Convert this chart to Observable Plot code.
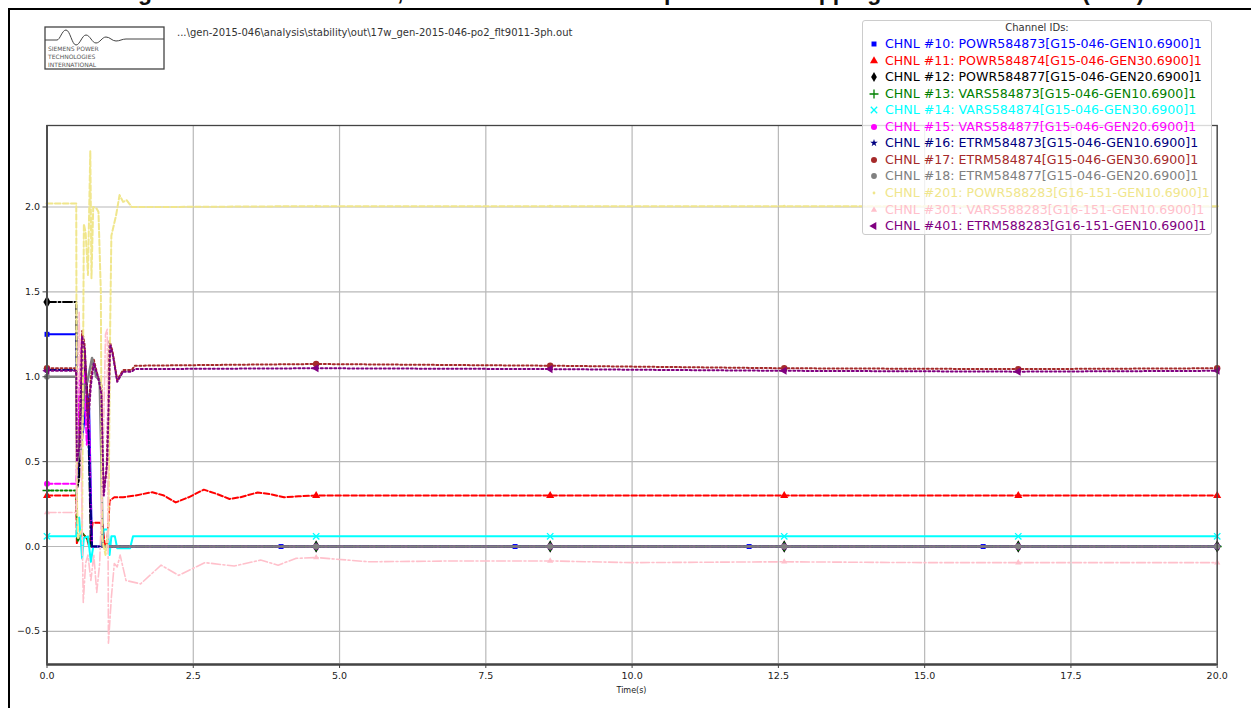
<!DOCTYPE html>
<html><head><meta charset="utf-8">
<script src="https://cdn.jsdelivr.net/npm/d3@7"></script>
<script src="https://cdn.jsdelivr.net/npm/@observablehq/plot@0.6"></script>
<style>
html,body{margin:0;padding:0;background:#fff;overflow:hidden;}
#fig{position:relative;width:1251px;height:708px;overflow:hidden;font-family:"DejaVu Sans",sans-serif;background:#fff;}
#border{position:absolute;left:8px;top:8px;width:1400px;height:900px;border-top:2px solid #000;border-left:2.5px solid #000;}
#title{position:absolute;left:0;width:1262px;top:-19px;text-align:center;font:bold 23px "Liberation Sans",Arial,sans-serif;color:#111;line-height:23px;white-space:nowrap;}
#chart{position:absolute;left:0;top:0;}
#path{position:absolute;left:177px;top:27px;font-size:10px;color:#333;white-space:nowrap;}
#logo{position:absolute;left:44px;top:26px;}
#legend{position:absolute;left:862px;top:20px;width:350px;height:215px;background:rgba(255,255,255,0.8);border:1px solid #ccc;border-radius:3px;box-sizing:border-box;}
#legend .ttl{position:absolute;left:0;right:0;top:1px;text-align:center;font-size:10px;color:#333;}
#legend .row{position:absolute;left:0;height:16px;line-height:16px;font-size:12.6px;white-space:nowrap;}
#legend .row svg{position:absolute;left:6px;top:3px;}
#legend .row span{position:absolute;left:22px;top:0;}
#xlabel{position:absolute;left:46px;width:1171px;top:686px;text-align:center;font-size:8px;color:#222;}
</style></head><body>
<div id="fig">
<div id="title"></div>
<div id="border"></div>
<svg id="logo" width="122" height="45">
<rect x="1" y="1" width="119" height="42" fill="none" stroke="#444" stroke-width="1.3"/>
<path d="M1 14 H13 C16 14 18 4 22 4 C26 4 28 19 32 19 C36 19 38 9 42 9 C46 9 48 17 52 17 C56 17 58 11 62 11 C66 11 68 15 72 15 C76 15 78 13 82 13 H120" fill="none" stroke="#444" stroke-width="1"/>
<text x="4" y="25" font-size="6" fill="#555" font-family="DejaVu Sans">SIEMENS POWER</text>
<text x="4" y="33" font-size="6" fill="#555" font-family="DejaVu Sans">TECHNOLOGIES</text>
<text x="4" y="41" font-size="6" fill="#555" font-family="DejaVu Sans">INTERNATIONAL</text>
</svg>
<div id="path"></div>
<div id="chart"></div>
<div id="xlabel"></div>
<div id="legend"><div class="ttl"></div></div>
</div>
<script>
// ---------- text ----------
const titleText = "Figure 6-17: FLT9011-3PH, GEN-2015-046 Unit Response with Tripping of the Substation (17W)";
const pathText = "...\\gen-2015-046\\analysis\\stability\\out\\17w_gen-2015-046-po2_flt9011-3ph.out";
const legendTitle = "Channel IDs:";
const xLabel = "Time(s)";

// ---------- axes ----------
const X_DOMAIN = [0, 20];
const Y_DOMAIN = [-0.695, 2.48];
const TIME_TICKS = [0, 2.5, 5, 7.5, 10, 12.5, 15, 17.5, 20];
const VALUE_TICKS = [-0.5, 0, 0.5, 1, 1.5, 2];

// ---------- channel labels ----------
const channelIds = [
  "CHNL #10: POWR584873[G15-046-GEN10.6900]1",
  "CHNL #11: POWR584874[G15-046-GEN30.6900]1",
  "CHNL #12: POWR584877[G15-046-GEN20.6900]1",
  "CHNL #13: VARS584873[G15-046-GEN10.6900]1",
  "CHNL #14: VARS584874[G15-046-GEN30.6900]1",
  "CHNL #15: VARS584877[G15-046-GEN20.6900]1",
  "CHNL #16: ETRM584873[G15-046-GEN10.6900]1",
  "CHNL #17: ETRM584874[G15-046-GEN30.6900]1",
  "CHNL #18: ETRM584877[G15-046-GEN20.6900]1",
  "CHNL #201: POWR588283[G16-151-GEN10.6900]1",
  "CHNL #301: VARS588283[G16-151-GEN10.6900]1",
  "CHNL #401: ETRM588283[G16-151-GEN10.6900]1"
];

// ---------- series values [time, value] ----------
const chnl10 = [[0,1.25],[0.5,1.25],[0.52,0.45],[0.57,0.55],[0.63,0.72],[0.69,0.9],[0.72,0.82],[0.75,0.3],[0.77,0],[4,0],[8,0],[12,0],[16,0],[20,0]];
const chnl11 = [[0,0.30],[0.5,0.30],[0.51,0.02],[0.55,0.05],[0.62,0.07],[0.68,0.05],[0.72,0.0],[0.78,0.14],[0.9,0.14],[0.95,0.13],[0.99,0.0],[1.03,0.02],[1.07,0.27],[1.15,0.29],[1.3,0.29],[1.5,0.30],[1.8,0.32],[2.0,0.30],[2.2,0.26],[2.42,0.29],[2.68,0.335],[2.9,0.31],[3.12,0.28],[3.3,0.29],[3.6,0.318],[3.8,0.31],[4.05,0.29],[4.3,0.296],[4.6,0.30],[8.6,0.30],[12.6,0.30],[16.6,0.30],[20,0.30]];
const chnl12 = [[0,1.44],[0.5,1.44],[0.52,0.35],[0.55,0.4],[0.6,0.9],[0.64,1.05],[0.68,0.97],[0.72,0.5],[0.75,0],[4.6,0],[8.6,0],[12.6,0],[16.6,0],[20,0]];
const chnl13 = [[0,0.33],[0.5,0.33],[0.52,0.03],[0.6,0.08],[0.68,0.05],[0.74,0],[4.6,0],[8.6,0],[12.6,0],[16.6,0],[20,0]];
const chnl14 = [[0,0.06],[0.5,0.06],[0.52,0.15],[0.55,0.17],[0.6,-0.07],[0.63,0.05],[0.7,0.06],[0.75,-0.09],[0.79,0.0],[0.94,0.0],[0.97,0.1],[1.04,0.1],[1.07,-0.05],[1.1,0.06],[1.16,0.06],[1.2,-0.01],[1.42,-0.01],[1.47,0.06],[4.6,0.06],[8.6,0.06],[12.6,0.06],[16.6,0.06],[20,0.06]];
const chnl15 = [[0,0.37],[0.5,0.37],[0.52,0.55],[0.56,1.0],[0.6,1.25],[0.64,0.95],[0.68,0.6],[0.72,0.75],[0.75,0.2],[0.77,0],[4.6,0],[8.6,0],[12.6,0],[16.6,0],[20,0]];
const chnl16 = [[0,1.04],[0.5,1.04],[0.52,0.4],[0.57,0.7],[0.61,1.22],[0.65,1.1],[0.7,0.8],[0.74,0.3],[0.77,0],[4.6,0],[8.6,0],[12.6,0],[16.6,0],[20,0]];
const chnl17 = [[0,1.05],[0.5,1.05],[0.51,0.45],[0.55,0.55],[0.6,1.27],[0.64,1.2],[0.7,0.75],[0.75,1.0],[0.8,1.1],[0.87,1.0],[0.93,0.95],[0.96,0.32],[1.02,0.45],[1.07,1.21],[1.12,1.15],[1.2,0.98],[1.3,1.04],[1.45,1.04],[1.5,1.065],[3,1.07],[4.6,1.075],[8.6,1.065],[12.6,1.05],[16.6,1.045],[20,1.05]];
const chnl18 = [[0,1.0],[0.5,1.0],[0.52,0.5],[0.58,0.6],[0.64,0.95],[0.69,0.97],[0.77,1.11],[0.84,1.0],[0.9,0.98],[0.93,0.5],[0.95,0],[4.6,0],[8.6,0],[12.6,0],[16.6,0],[20,0]];
const chnl201 = [[0,2.02],[0.5,2.02],[0.51,0.3],[0.53,0.05],[0.6,0.1],[0.63,1.9],[0.66,1.85],[0.7,1.6],[0.74,2.33],[0.76,1.58],[0.79,2.0],[0.85,1.99],[0.88,1.97],[0.92,1.5],[0.94,0.05],[1.0,-0.05],[1.05,0.1],[1.08,1.3],[1.1,1.83],[1.18,1.95],[1.24,2.07],[1.3,2.03],[1.36,2.04],[1.45,2.0],[2,2.0],[4.6,2.005],[8.6,2.005],[12.6,2.005],[16.6,2.005],[20,2.005]];
const chnl301 = [[0,0.2],[0.5,0.2],[0.52,0.9],[0.55,1.38],[0.58,0.6],[0.62,-0.33],[0.66,-0.1],[0.7,-0.05],[0.75,-0.2],[0.8,-0.05],[0.85,-0.27],[0.9,-0.1],[0.95,0.4],[1.0,1.25],[1.03,1.28],[1.05,-0.57],[1.1,-0.3],[1.15,-0.1],[1.2,-0.12],[1.25,-0.05],[1.35,-0.2],[1.6,-0.22],[1.95,-0.11],[2.25,-0.17],[2.7,-0.095],[3.2,-0.115],[3.65,-0.08],[3.95,-0.11],[4.25,-0.07],[4.6,-0.065],[5.5,-0.09],[7,-0.085],[8.6,-0.085],[10,-0.095],[12.6,-0.09],[15,-0.095],[16.6,-0.095],[20,-0.095]];
const chnl401 = [[0,1.035],[0.5,1.035],[0.51,0.5],[0.56,0.6],[0.6,1.24],[0.65,1.15],[0.7,0.7],[0.75,0.95],[0.8,1.08],[0.87,1.0],[0.93,0.9],[0.97,0.3],[1.03,0.5],[1.08,1.19],[1.13,1.12],[1.2,0.97],[1.3,1.03],[1.45,1.03],[1.5,1.045],[4.6,1.05],[8.6,1.045],[12.6,1.035],[16.6,1.03],[20,1.035]];

// times at which markers are shown
const markTimesA = [0, 4.6, 8.6, 12.6, 16.6, 20];
const markTimesB = [0, 4, 8, 12, 16, 20];

// ---------- styles ----------
const SOLID = null, DASHED = "5.5,2.5", DASHDOT = "9,2.5,2,2.5", DOTTED = "2,2.5";
const seriesData = [chnl10, chnl11, chnl12, chnl13, chnl14, chnl15, chnl16, chnl17, chnl18, chnl201, chnl301, chnl401];
const seriesColors = ["#0000ff","#ff0000","#000000","#008000","#00ffff","#ff00ff","#000080","#a52a2a","#808080","#f0e68c","#ffc0cb","#800080"];
const seriesDash = [SOLID, DASHED, DASHDOT, DOTTED, SOLID, DASHED, DASHDOT, DOTTED, SOLID, DASHED, DASHDOT, DOTTED];
const seriesWidth = [2, 2, 2, 2, 2, 2, 2, 2, 2.5, 2, 1.6, 2];
const seriesSymbol = ["square","triangle","diamond","plus","times","circle","star","circle","circle","circle","triangle","triangle"];
const seriesR = [2.8, 3, 3.8, 3, 3, 3, 2.4, 3.2, 2.9, 1.4, 2.3, 3];
const seriesRotate = [0,0,0,0,0,0,0,0,0,0,0,-90];
const seriesMarks = [markTimesB, markTimesA, markTimesA, markTimesA, markTimesA, markTimesA, markTimesA, markTimesA, markTimesA, markTimesA, markTimesA, markTimesA];
const strokeSymbols = new Set(["plus","times"]);

// ---------- plot ----------
const marks = [
  Plot.gridX(TIME_TICKS, {stroke: "#b8b8b8", strokeOpacity: 1, strokeWidth: 1.2}),
  Plot.gridY(VALUE_TICKS, {stroke: "#b8b8b8", strokeOpacity: 1, strokeWidth: 1.2})
];
seriesData.forEach((data, i) => {
  const rows = data.map(([t, v]) => ({t, v}));
  const lineOpts = {x: "t", y: "v", stroke: seriesColors[i], strokeWidth: seriesWidth[i]};
  if (seriesDash[i]) lineOpts.strokeDasharray = seriesDash[i];
  marks.push(Plot.line(rows, lineOpts));
  const mk = rows.filter(d => seriesMarks[i].includes(d.t));
  const isStroke = strokeSymbols.has(seriesSymbol[i]);
  marks.push(Plot.dot(mk, {
    x: "t", y: "v", symbol: seriesSymbol[i], r: seriesR[i], rotate: seriesRotate[i],
    fill: isStroke ? "none" : seriesColors[i],
    stroke: isStroke ? seriesColors[i] : "none",
    strokeWidth: 1.3
  }));
});
marks.push(
  Plot.ruleX([X_DOMAIN[0]], {stroke: "#666", strokeWidth: 2}),
  Plot.ruleY([Y_DOMAIN[0]], {stroke: "#777", strokeWidth: 3}),
  Plot.frame({stroke: "#444", strokeWidth: 1.3}),
  Plot.axisX(TIME_TICKS, {tickFormat: d3.format(".1f"), tickSize: 4, tickPadding: 4, fontSize: 9.5, label: null, stroke: "#444"}),
  Plot.axisY(VALUE_TICKS, {tickFormat: d3.format(".1f"), tickSize: 4, tickPadding: 3, fontSize: 9.5, label: null, stroke: "#444"})
);

const chart = Plot.plot({
  width: 1251, height: 708,
  marginLeft: 46.5, marginRight: 34.3, marginTop: 125, marginBottom: 44,
  x: {domain: X_DOMAIN},
  y: {domain: Y_DOMAIN},
  style: {fontFamily: "DejaVu Sans", color: "#222", background: "transparent"},
  marks
});
document.getElementById("chart").appendChild(chart);

// ---------- texts ----------
document.getElementById("title").textContent = titleText;
document.getElementById("path").textContent = pathText;
document.getElementById("xlabel").textContent = xLabel;

// ---------- legend ----------
const symbolTypes = {square: d3.symbolSquare, triangle: d3.symbolTriangle, diamond: d3.symbolDiamond, plus: d3.symbolPlus, times: d3.symbolTimes, circle: d3.symbolCircle, star: d3.symbolStar};
const legend = document.getElementById("legend");
legend.querySelector(".ttl").textContent = legendTitle;
channelIds.forEach((label, i) => {
  const row = document.createElement("div");
  row.className = "row";
  row.style.top = (15 + 16.55 * i) + "px";
  const r = Math.min(seriesR[i], 3);
  const size = Math.PI * r * r;
  const isStroke = strokeSymbols.has(seriesSymbol[i]);
  const d = d3.symbol(symbolTypes[seriesSymbol[i]], size)();
  row.innerHTML = `<svg width="10" height="10"><path d="${d}" transform="translate(5,5) rotate(${seriesRotate[i]})" fill="${isStroke ? "none" : seriesColors[i]}" stroke="${isStroke ? seriesColors[i] : "none"}" stroke-width="1.3"/></svg>`;
  const span = document.createElement("span");
  span.textContent = label;
  span.style.color = seriesColors[i];
  row.appendChild(span);
  legend.appendChild(row);
});
</script>
</body></html>
